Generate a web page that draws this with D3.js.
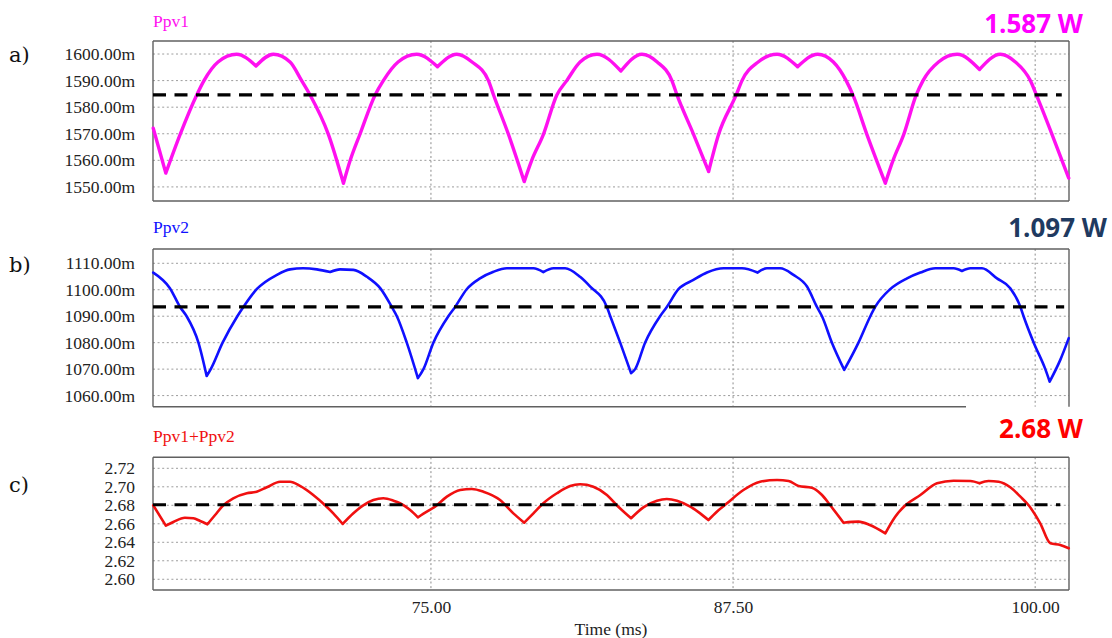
<!DOCTYPE html>
<html><head><meta charset="utf-8">
<script src="https://cdn.jsdelivr.net/npm/d3@7"></script>
<style>body{margin:0;background:#fff}svg{display:block}</style>
</head><body><svg id="chart" width="1112" height="638"></svg>
<script>
// ---------- data ----------
const panelTitles = ["Ppv1", "Ppv2", "Ppv1+Ppv2"];
const panelLetters = ["a)", "b)", "c)"];
const meanLabels = ["1.587 W", "1.097 W", "2.68 W"];
const meanValues = [1584.6, 1093.5, 2.6806];
const meanEnds = [101.1, 101.2, 101.04];

const xTicks = [75, 87.5, 100];
const xLabel = "Time (ms)";
const yTicksA = [1550, 1560, 1570, 1580, 1590, 1600];
const yTicksB = [1060, 1070, 1080, 1090, 1100, 1110];
const yTicksC = [2.60, 2.62, 2.64, 2.66, 2.68, 2.70, 2.72];

// Ppv1 (mW)
const tA = [63.51,64.03,64.62,65.31,65.61,66.19,66.96,67.76,68.48,69.17,69.65,70.00,70.76,71.38,71.66,72.07,72.69,73.03,73.64,74.41,75.27,76.07,76.70,77.38,77.59,78.21,78.86,79.17,79.65,80.21,80.62,81.17,81.87,82.86,83.73,84.36,84.97,85.18,85.87,86.49,86.90,87.63,87.87,88.54,89.32,90.17,91.00,91.65,92.18,92.46,93.04,93.80,94.12,94.56,95.08,95.36,96.00,96.77,97.70,98.56,99.18,99.80,100.05,100.70,101.39];
const vA = [1572.1,1555.2,1569.7,1584.6,1590.0,1597.0,1599.9,1595.5,1599.9,1597.0,1590.0,1584.6,1569.7,1551.4,1560.0,1570.0,1584.6,1590.0,1597.0,1599.9,1595.2,1599.9,1597.0,1590.0,1584.6,1569.7,1552.0,1560.0,1569.7,1584.6,1590.0,1597.0,1599.9,1593.6,1599.9,1597.0,1590.0,1584.6,1569.7,1555.8,1569.7,1584.6,1590.0,1597.0,1599.9,1595.2,1599.9,1597.0,1590.0,1584.6,1569.7,1551.4,1560.0,1569.7,1584.6,1590.0,1597.0,1599.9,1594.2,1599.9,1597.0,1590.0,1584.6,1569.7,1553.3];

// Ppv2 (mW)
const tB = [63.51,64.20,64.62,64.89,65.38,65.72,65.89,66.38,66.99,67.24,67.79,68.62,69.17,69.71,70.28,70.83,71.24,71.79,72.35,72.90,73.38,73.59,74.00,74.46,74.69,75.10,75.72,76.00,76.48,77.03,77.59,78.14,79.24,79.65,80.07,80.55,81.17,81.59,82.28,82.42,82.83,83.28,83.45,83.86,84.48,84.76,85.24,85.86,86.42,87.11,87.87,88.51,88.90,89.45,90.00,90.56,90.97,91.18,91.59,92.10,92.69,93.18,93.38,94.00,94.70,95.25,95.87,96.63,96.97,97.32,97.80,98.42,98.97,99.39,99.52,99.94,100.42,100.60,101.04,101.39];
const vB = [1106.5,1100.6,1093.5,1090.0,1080.0,1067.4,1070.0,1080.0,1090.0,1093.5,1100.2,1105.6,1107.7,1108.1,1107.7,1106.7,1107.7,1107.5,1104.9,1100.6,1093.5,1090.0,1080.0,1066.6,1070.0,1080.0,1090.0,1093.5,1100.2,1104.3,1106.8,1108.1,1108.1,1106.7,1108.1,1108.1,1104.9,1101.2,1093.5,1090.0,1080.0,1068.5,1070.0,1080.0,1090.0,1093.5,1100.2,1103.7,1106.5,1108.1,1108.1,1106.5,1108.1,1108.1,1105.6,1101.2,1093.5,1090.0,1080.0,1069.7,1080.0,1090.0,1093.5,1100.2,1104.3,1106.5,1108.1,1108.1,1107.1,1108.1,1108.1,1104.3,1100.6,1093.5,1090.0,1080.0,1070.0,1065.3,1073.5,1081.7];

// Ppv1+Ppv2 (W)
const tC = [63.51,64.03,64.34,64.82,65.17,65.45,65.75,66.07,66.41,66.82,67.38,67.79,68.21,68.76,69.17,69.58,70.13,70.62,70.96,71.35,71.79,72.20,72.62,73.03,73.45,73.72,74.14,74.46,74.83,75.17,75.66,76.21,76.69,77.17,77.86,78.41,78.86,79.24,79.65,80.21,80.76,81.17,81.72,82.28,82.69,83.28,83.79,84.35,84.76,85.18,85.73,86.14,86.48,86.83,87.25,87.93,88.62,89.32,89.80,90.21,90.76,91.18,91.52,92.07,92.69,93.16,93.80,94.21,94.63,95.25,95.94,96.62,97.32,97.70,98.07,98.49,98.97,99.39,99.73,100.21,100.63,101.04,101.39];
const vC = [2.680,2.658,2.662,2.6666,2.666,2.663,2.6595,2.6695,2.680,2.6876,2.693,2.6947,2.6995,2.7055,2.7055,2.7009,2.6911,2.680,2.6713,2.6598,2.6713,2.680,2.6857,2.6876,2.685,2.6822,2.6749,2.667,2.6731,2.6785,2.6893,2.6965,2.6976,2.6947,2.6857,2.6713,2.6612,2.6713,2.6822,2.693,2.7009,2.7027,2.7001,2.6911,2.680,2.666,2.6778,2.685,2.6868,2.685,2.6785,2.6713,2.6641,2.6731,2.6822,2.6965,2.7055,2.7074,2.7063,2.7009,2.699,2.6911,2.680,2.6612,2.6623,2.6587,2.6497,2.6677,2.680,2.6911,2.7038,2.7066,2.7063,2.7038,2.7063,2.7055,2.6995,2.6893,2.680,2.6605,2.6389,2.6371,2.6335];

// ---------- layout ----------
const svg = d3.select("#chart");
const L = 153, R = 1069;
const x = d3.scaleLinear().domain([63.5, 101.4]).range([L, R]);

const panels = [
  {t:tA, v:vA, ticks:yTicksA, fmt:d=>d.toFixed(2)+"m", domain:[1544.7,1604.9], top:41, bottom:201,
   color:"#ff10f0", sw:3.4, titleY:26.7, letterY:62, labelY:33, labelX:1083, labelColor:"#ff00ff", bottomEnd:R},
  {t:tB, v:vB, ticks:yTicksB, fmt:d=>d.toFixed(2)+"m", domain:[1055.8,1115.4], top:249, bottom:406.7,
   color:"#1010ff", sw:2.6, titleY:233.3, letterY:272, labelY:236.7, labelX:1107, labelColor:"#1f3a60", bottomEnd:966},
  {t:tC, v:vC, ticks:yTicksC, fmt:d=>d.toFixed(2), domain:[2.5884,2.7319], top:457.3, bottom:590,
   color:"#f01010", sw:2.6, titleY:441.7, letterY:492, labelY:438.3, labelX:1083, labelColor:"#ff0000", bottomEnd:R}
];

const serif = "'Liberation Serif','Times New Roman',serif";

panels.forEach((p, i) => {
  const y = d3.scaleLinear().domain(p.domain).range([p.bottom, p.top]);
  const g = svg.append("g");

  // horizontal grid
  g.selectAll(".hg").data(p.ticks).enter().append("line")
    .attr("x1", L).attr("x2", R)
    .attr("y1", d => y(d)).attr("y2", d => y(d))
    .attr("stroke", "#9c9c9c").attr("stroke-width", 1).attr("stroke-dasharray", "2,2.6");
  // vertical grid
  g.selectAll(".vg").data(xTicks).enter().append("line")
    .attr("x1", d => x(d)).attr("x2", d => x(d))
    .attr("y1", p.top).attr("y2", p.bottom)
    .attr("stroke", "#8c8c8c").attr("stroke-width", 1).attr("stroke-dasharray", "2,2.6");

  // y axis labels
  const ax = d3.axisLeft(y).tickValues(p.ticks).tickFormat(p.fmt).tickSize(0).tickPadding(0);
  const ag = g.append("g").attr("transform", `translate(${135},0)`).call(ax);
  ag.select(".domain").remove();
  ag.selectAll("text").attr("font-family", serif).attr("font-size", 17.5).attr("fill", "#222");

  // frame
  const fc = "#606060";
  g.append("line").attr("x1", L).attr("x2", R).attr("y1", p.top).attr("y2", p.top).attr("stroke", fc).attr("stroke-width", 1.4);
  g.append("line").attr("x1", L).attr("x2", L).attr("y1", p.top).attr("y2", p.bottom).attr("stroke", fc).attr("stroke-width", 1.4);
  g.append("line").attr("x1", R).attr("x2", R).attr("y1", p.top).attr("y2", p.bottom).attr("stroke", fc).attr("stroke-width", 1.4);
  g.append("line").attr("x1", L).attr("x2", p.bottomEnd).attr("y1", p.bottom).attr("y2", p.bottom).attr("stroke", fc).attr("stroke-width", 1.4);

  // series line, split at cusps (local minima)
  const pts = p.t.map((t, k) => ({t, v: p.v[k]}));
  const segs = []; let cur = [pts[0]];
  for (let k = 1; k < pts.length; k++) {
    cur.push(pts[k]);
    if (k < pts.length - 1 && pts[k].v < pts[k-1].v && pts[k].v < pts[k+1].v) { segs.push(cur); cur = [pts[k]]; }
  }
  segs.push(cur);
  const line = d3.line().x(d => x(d.t)).y(d => y(d.v)).curve(d3.curveMonotoneX);
  g.append("path").attr("d", segs.map(s => line(s)).join(""))
    .attr("fill", "none").attr("stroke", p.color).attr("stroke-width", p.sw)
    .attr("stroke-linejoin", "round").attr("stroke-linecap", "round");

  // mean dashed line
  g.append("line")
    .attr("x1", x(63.5)).attr("x2", x(meanEnds[i]))
    .attr("y1", y(meanValues[i])).attr("y2", y(meanValues[i]))
    .attr("stroke", "#000").attr("stroke-width", 3.2).attr("stroke-dasharray", "13,8.5");

  // titles
  svg.append("text").attr("x", L).attr("y", p.titleY).text(panelTitles[i])
    .attr("font-family", serif).attr("font-size", 17.5).attr("fill", p.color);
  svg.append("text").attr("x", 9).attr("y", p.letterY).text(panelLetters[i])
    .attr("font-family", "'DejaVu Serif',serif").attr("font-size", 21).attr("fill", "#111");
  svg.append("text").attr("x", p.labelX).attr("y", p.labelY).attr("text-anchor", "end").text(meanLabels[i])
    .attr("font-family", "'Open Sans',sans-serif").attr("font-weight", "bold").attr("font-size", 26)
    .attr("fill", p.labelColor);
});

// x axis labels (bottom panel)
const xa = d3.axisBottom(x).tickValues(xTicks).tickFormat(d => d.toFixed(2)).tickSize(0).tickPadding(0);
const xg = svg.append("g").attr("transform", "translate(0,601)").call(xa);
xg.select(".domain").remove();
xg.selectAll("text").attr("font-family", serif).attr("font-size", 17.5).attr("fill", "#222");
svg.append("text").attr("x", (L + R) / 2).attr("y", 635).attr("text-anchor", "middle").text(xLabel)
  .attr("font-family", serif).attr("font-size", 17.5).attr("fill", "#222");
</script></body></html>
